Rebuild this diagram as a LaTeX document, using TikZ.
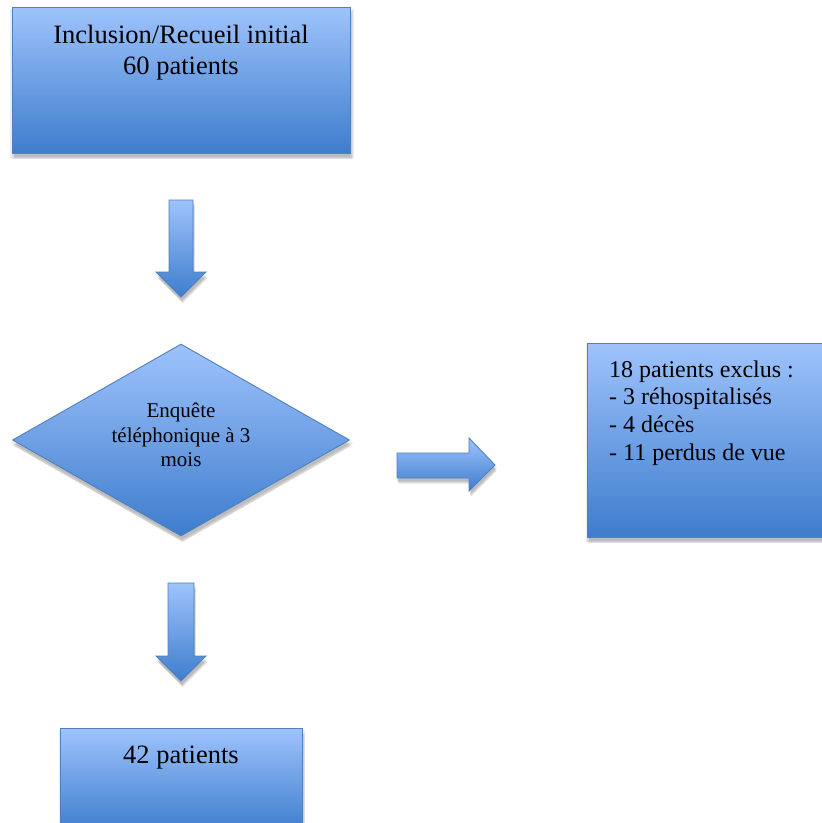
\documentclass[tikz,border=0pt]{standalone}
\usepackage{fontspec}
\setmainfont{Liberation Serif}
\usetikzlibrary{shapes.geometric,shadows}
\definecolor{btop}{RGB}{158,195,252}
\definecolor{bbot}{RGB}{62,125,205}
\definecolor{bline}{RGB}{80,128,190}
\tikzset{
  shadowed/.style={
    drop shadow={shadow xshift=1pt,shadow yshift=-3pt,opacity=.07,fill=black,shadow scale=1.02},
    drop shadow={shadow xshift=1.5pt,shadow yshift=-5pt,opacity=.07,fill=black,shadow scale=1.01},
    drop shadow={shadow xshift=1.5pt,shadow yshift=-6pt,opacity=.07,fill=black},
    drop shadow={shadow xshift=1pt,shadow yshift=-4pt,opacity=.08,fill=black,shadow scale=0.995}},
  bluebox/.style={rectangle,draw=bline,line width=0.9pt,top color=btop,bottom color=bbot,shadowed,inner sep=0pt},
  bluediamond/.style={diamond,draw=bline,line width=0.9pt,top color=btop,bottom color=bbot,shadowed,inner sep=0pt},
  blockarrow/.style={draw=bline,line width=0.9pt,top color=btop,bottom color=bbot,shadowed,line join=miter},
  bigtext/.style={inner sep=0pt,font=\fontsize{26.5}{31}\selectfont},
  midtext/.style={inner sep=0pt,font=\fontsize{24}{27.6}\selectfont},
  smalltext/.style={inner sep=0pt,font=\fontsize{21}{24.5}\selectfont},
}
\begin{document}
\begin{tikzpicture}[x=1pt,y=-1pt]
\fill[white] (0,0) rectangle (822,823);
\useasboundingbox (0,0) rectangle (822,823);

% top box
\node[bluebox,minimum width=338pt,minimum height=146pt] (incl) at (181,80) {};
\node[bigtext,align=center,anchor=north] (incltxt) at (181,25) {Inclusion/Recueil initial\\60 patients};

% arrow 1
\path[blockarrow] (169,200) -- (193,200) -- (193,272) -- (206,272) -- (181,297) -- (156,272) -- (169,272) -- cycle;

% diamond
\node[bluediamond,minimum width=337pt,minimum height=192pt] (enq) at (181,440) {};
\node[smalltext,align=center] (enqtxt) at (181,435) {Enquête\\téléphonique à 3\\mois};

% right arrow
\path[blockarrow] (397,453) -- (469,453) -- (469,438) -- (495,465) -- (469,491) -- (469,478) -- (397,478) -- cycle;

% right box
\node[bluebox,minimum width=240pt,minimum height=194pt] (excl) at (707,440) {};
\node[midtext,align=left,anchor=north west] (excltxt) at (609,360.5) {18 patients exclus :\\- 3 réhospitalisés\\- 4 décès\\- 11 perdus de vue};

% arrow 2
\path[blockarrow] (168,583) -- (194,583) -- (194,656) -- (206,656) -- (181,681) -- (156,656) -- (168,656) -- cycle;

% bottom box
\node[bluebox,minimum width=242pt,minimum height=104pt] (final) at (181,780) {};
\node[bigtext,anchor=base] (finaltxt) at (181,763) {42 patients};
\end{tikzpicture}
\end{document}
